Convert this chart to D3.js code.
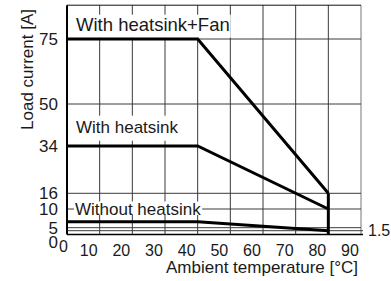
<!DOCTYPE html>
<html>
<head>
<meta charset="utf-8">
<script src="https://cdn.jsdelivr.net/npm/d3@7/dist/d3.min.js"></script>
<style>
  body { margin: 0; background: #fff; }
  svg { display: block; }
  text { font-family: "Liberation Sans", Arial, sans-serif; fill: #1a1a1a; }
</style>
</head>
<body>
<script>
// ambient temperature breakpoints [°C]
const temps = [0, 40, 80];
// load current [A] for each curve
const fanAmps = [75, 75, 16];
const sinkAmps = [34, 34, 10];
const bareAmps = [6.6, 6.6, 1.5];
// cut-off at the right end
const cutTemp = 80;
const cutAmps = [16, 0];

const xTicks = [0, 10, 20, 30, 40, 50, 60, 70, 80, 90];
const yTicks = [0, 5, 10, 16, 34, 50, 75];
const yGrid = [1.5, 5, 10, 16, 50, 75];
const rightTicks = [1.5];
const curveNames = ["With heatsink+Fan", "With heatsink", "Without heatsink"];

const svgWidth = 391;
const svgHeight = 281;
const xMax = 90;
const yMax = 88;

const svg = d3.select("body").append("svg")
    .attr("width", svgWidth)
    .attr("height", svgHeight);

const x = d3.scaleLinear().domain([0, xMax]).range([67, 361]);
// the printed axis is not linear near the bottom
const y = d3.scaleLinear()
    .domain([0, 1.5, 5, 10, 16, 34, 50, 75, yMax])
    .range([234.5, 230.7, 227.7, 209, 193.3, 146, 104, 39, 5.2]);

const grid = svg.append("g").attr("stroke", "#3a3a3a").attr("stroke-width", 1);

// vertical grid
grid.selectAll("line.v")
    .data(xTicks.slice(1))
    .join("line")
    .attr("class", "v")
    .attr("x1", d => x(d)).attr("x2", d => x(d))
    .attr("y1", y(yMax)).attr("y2", y(0))
    .attr("stroke", d => d === xMax ? "#777" : "#3a3a3a");

// horizontal grid
grid.selectAll("line.h")
    .data(yGrid)
    .join("line")
    .attr("class", "h")
    .attr("x1", x(0))
    .attr("x2", d => rightTicks.includes(d) ? x(xMax) + 2 : x(xMax))
    .attr("y1", d => y(d)).attr("y2", d => y(d));

// top frame
svg.append("line")
    .attr("x1", x(0)).attr("x2", x(xMax))
    .attr("y1", y(yMax)).attr("y2", y(yMax))
    .attr("stroke", "#111").attr("stroke-width", 1);

// axes lines
svg.append("line")
    .attr("x1", x(0)).attr("x2", x(0))
    .attr("y1", y(yMax)).attr("y2", y(0))
    .attr("stroke", "#000").attr("stroke-width", 2);
svg.append("line")
    .attr("x1", x(0)).attr("x2", x(xMax) + 2)
    .attr("y1", y(0)).attr("y2", y(0))
    .attr("stroke", "#000").attr("stroke-width", 1.5);

// labels with white boxes
const labelSpecs = [
    {text: curveNames[0], x: 76, y: 30.7, size: 18.5, padTop: -1, padBottom: 3},
    {text: curveNames[1], x: 76, y: 132.7, size: 17, padTop: 2, padBottom: 4},
    {text: curveNames[2], x: 75, y: 214.5, size: 17, padTop: -2, padBottom: -3.5}
];
const labelG = svg.append("g");
labelSpecs.forEach(s => {
    const g = labelG.append("g");
    const t = g.append("text")
        .attr("x", s.x).attr("y", s.y)
        .style("font-size", s.size + "px")
        .text(s.text);
    const b = t.node().getBBox();
    g.insert("rect", "text")
        .attr("x", b.x - 1)
        .attr("y", b.y - s.padTop)
        .attr("width", b.width + 2)
        .attr("height", b.height + s.padTop + s.padBottom)
        .attr("fill", "#fff");
});

// curves
const line = d3.line()
    .x((d, i) => x(temps[i]))
    .y(d => y(d));

svg.selectAll("path.curve")
    .data([fanAmps, sinkAmps, bareAmps])
    .join("path")
    .attr("class", "curve")
    .attr("d", line)
    .attr("fill", "none")
    .attr("stroke", "#000")
    .attr("stroke-width", 3)
    .attr("stroke-linejoin", "miter");

svg.append("path")
    .attr("d", d3.line().x(() => x(cutTemp)).y(d => y(d))(cutAmps))
    .attr("fill", "none")
    .attr("stroke", "#000")
    .attr("stroke-width", 3);

// y tick labels
svg.selectAll("text.ytick")
    .data(yTicks)
    .join("text")
    .attr("class", "ytick")
    .attr("x", 58)
    .attr("y", d => y(d) + (d === 0 ? 7.5 : 0))
    .attr("dy", "0.35em")
    .attr("text-anchor", "end")
    .style("font-size", "17px")
    .text(d => d);

svg.selectAll("text.rtick")
    .data(rightTicks)
    .join("text")
    .attr("class", "rtick")
    .attr("x", 368)
    .attr("y", d => y(d))
    .attr("dy", "0.35em")
    .style("font-size", "16px")
    .text(d => d);

// x tick labels (printed slightly left of the grid lines)
svg.selectAll("text.xtick")
    .data(xTicks)
    .join("text")
    .attr("class", "xtick")
    .attr("x", d => x(d) + (d === 0 ? -3.5 : -11))
    .attr("y", d => d === 0 ? 252 : 255.5)
    .attr("text-anchor", "middle")
    .style("font-size", "16px")
    .text(d => d);

// axis titles
svg.append("text")
    .attr("x", 358).attr("y", 273)
    .attr("text-anchor", "end")
    .style("font-size", "17px")
    .text("Ambient temperature [°C]");

svg.append("text")
    .attr("transform", "translate(32.5,69.5) rotate(-90)")
    .attr("text-anchor", "middle")
    .style("font-size", "17px")
    .text("Load current [A]");
</script>
</body>
</html>
